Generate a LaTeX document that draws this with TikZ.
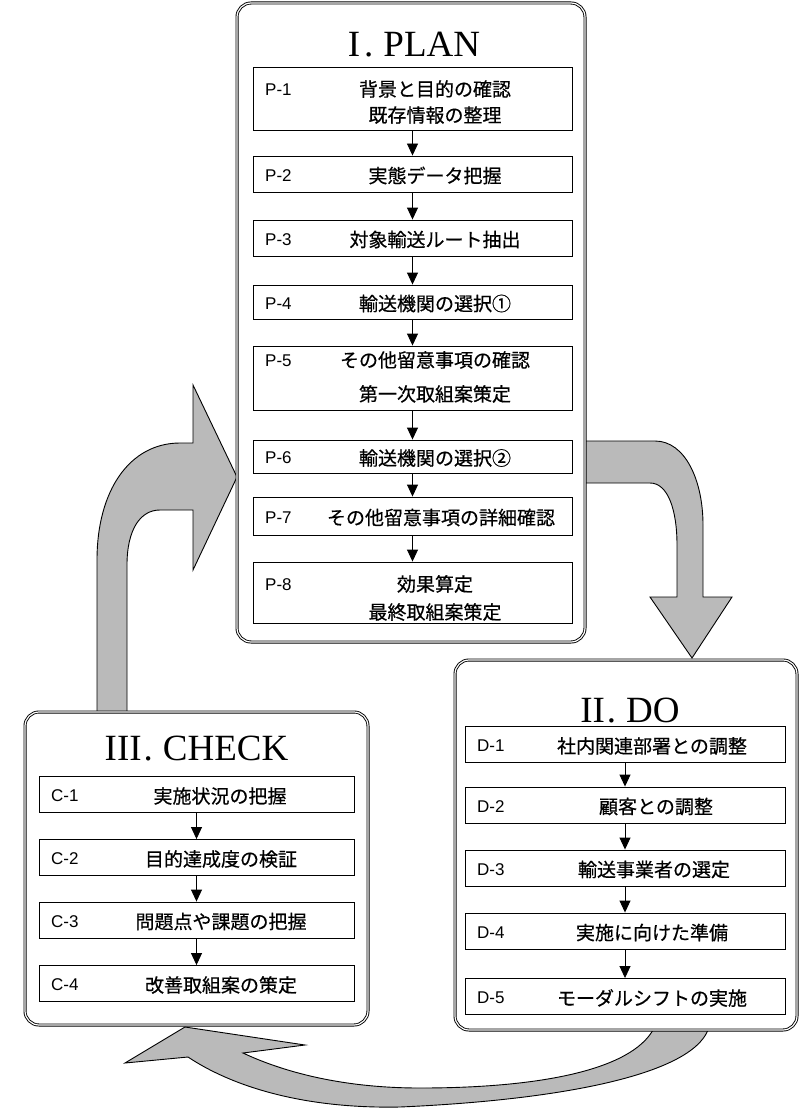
\documentclass[tikz,border=0pt]{standalone}
\usepackage{fontspec}
\usepackage{tikz}
\usetikzlibrary{graphs,backgrounds,arrows.meta}
\newfontfamily\jpfont{Noto Sans CJK JP}[FakeBold=0.5]
\newfontfamily\numfont{Liberation Sans}
\newfontfamily\titlefont{Liberation Serif}

\tikzset{
  stage/.style={draw, double, double distance=1.2pt, line width=0.9pt, rounded corners=14pt, fill=white, inner sep=0pt},
  stepbox/.style={draw, line width=0.9pt, fill=white, inner sep=0pt, minimum height=36pt},
  steplabel/.style={anchor=west, inner sep=0pt, font=\numfont\fontsize{17pt}{17pt}\selectfont},
  steptext/.style={inner sep=0pt, align=center, font=\jpfont\fontsize{19pt}{26pt}\selectfont},
  stagetitle/.style={anchor=base, inner sep=0pt, font=\titlefont\fontsize{37pt}{37pt}\selectfont},
  cyclearrow/.style={draw, line width=0.9pt, fill=black!27, line join=miter}
}

\begin{document}
\begin{tikzpicture}[x=1pt, y=-1pt, >={Triangle[length=12pt,width=11pt]}]
\useasboundingbox (0,0) rectangle (799,1110);

	% I. PLAN
	\node [name=plan, stage, minimum width=348pt, minimum height=639pt] at (411,322.5) {};
	\node [name=plantitle, stagetitle] at (414,57) {I\kern4pt.\kern10pt PLAN};

	\node [name=p1, stepbox, minimum width=319pt, minimum height=63pt] at (412.5,98.5) {};
	\node [name=p2, stepbox, minimum width=319pt] at (412.5,174) {};
	\node [name=p3, stepbox, minimum width=319pt] at (412.5,238) {};
	\node [name=p4, stepbox, minimum width=319pt, minimum height=34pt] at (412.5,302) {};
	\node [name=p5, stepbox, minimum width=319pt, minimum height=64pt] at (412.5,378) {};
	\node [name=p6, stepbox, minimum width=319pt, minimum height=33pt] at (412.5,456.5) {};
	\node [name=p7, stepbox, minimum width=319pt, minimum height=38pt] at (412.5,516) {};
	\node [name=p8, stepbox, minimum width=319pt, minimum height=61pt] at (412.5,592.5) {};

	\node [name=p1num, steplabel] at (265,90) {P-1};
	\node [name=p2num, steplabel] at (265,175.5) {P-2};
	\node [name=p3num, steplabel] at (265,239.5) {P-3};
	\node [name=p4num, steplabel] at (265,303.5) {P-4};
	\node [name=p5num, steplabel] at (265,361) {P-5};
	\node [name=p6num, steplabel] at (265,458) {P-6};
	\node [name=p7num, steplabel] at (265,517.5) {P-7};
	\node [name=p8num, steplabel] at (265,585) {P-8};

	\node [name=p1txt, steptext] at (435,102) {背景と目的の確認\\既存情報の整理};
	\node [name=p2txt, steptext] at (435,175.5) {実態データ把握};
	\node [name=p3txt, steptext] at (435,239.5) {対象輸送ルート抽出};
	\node [name=p4txt, steptext] at (435,303.5) {輸送機関の選択①};
	\node [name=p5txt, steptext] at (435,377) {その他留意事項の確認\\[8pt]第一次取組案策定};
	\node [name=p6txt, steptext] at (435,458) {輸送機関の選択②};
	\node [name=p7txt, steptext] at (441,517.5) {その他留意事項の詳細確認};
	\node [name=p8txt, steptext] at (435,598) {効果算定\\[2pt]最終取組案策定};

	% II. DO
	\node [name=do, stage, minimum width=342pt, minimum height=370pt] at (626,845) {};
	\node [name=dotitle, stagetitle] at (630,722) {II\kern2pt.\kern10pt DO};

	\node [name=d1, stepbox, minimum width=320pt] at (625,744.5) {};
	\node [name=d2, stepbox, minimum width=320pt] at (625,805) {};
	\node [name=d3, stepbox, minimum width=320pt] at (625,868) {};
	\node [name=d4, stepbox, minimum width=320pt] at (625,931) {};
	\node [name=d5, stepbox, minimum width=320pt] at (625,996.5) {};

	\node [name=d1num, steplabel] at (477,746) {D-1};
	\node [name=d2num, steplabel] at (477,806.5) {D-2};
	\node [name=d3num, steplabel] at (477,869.5) {D-3};
	\node [name=d4num, steplabel] at (477,932.5) {D-4};
	\node [name=d5num, steplabel] at (477,998) {D-5};

	\node [name=d1txt, steptext] at (652,746) {社内関連部署との調整};
	\node [name=d2txt, steptext] at (656,806.5) {顧客との調整};
	\node [name=d3txt, steptext] at (654,869.5) {輸送事業者の選定};
	\node [name=d4txt, steptext] at (652,932.5) {実施に向けた準備};
	\node [name=d5txt, steptext] at (652,998) {モーダルシフトの実施};

	% III. CHECK
	\node [name=check, stage, minimum width=343pt, minimum height=313pt] at (196.5,868.5) {};
	\node [name=checktitle, stagetitle] at (196.5,760) {III\kern2pt.\kern10pt CHECK};

	\node [name=c1, stepbox, minimum width=315pt] at (196.5,794.5) {};
	\node [name=c2, stepbox, minimum width=315pt] at (196.5,857.5) {};
	\node [name=c3, stepbox, minimum width=315pt] at (196.5,920) {};
	\node [name=c4, stepbox, minimum width=315pt] at (196.5,983.5) {};

	\node [name=c1num, steplabel] at (51,796) {C-1};
	\node [name=c2num, steplabel] at (51,859) {C-2};
	\node [name=c3num, steplabel] at (51,921.5) {C-3};
	\node [name=c4num, steplabel] at (51,985) {C-4};

	\node [name=c1txt, steptext] at (220,796) {実施状況の把握};
	\node [name=c2txt, steptext] at (221,859) {目的達成度の検証};
	\node [name=c3txt, steptext] at (221,921.5) {問題点や課題の把握};
	\node [name=c4txt, steptext] at (221,985) {改善取組案の策定};

\graph [edges={line width=0.9pt}] {(p1) -> (p2) -> (p3) -> (p4) -> (p5) -> (p6) -> (p7) -> (p8)};
\graph [edges={line width=0.9pt}] {(d1) -> (d2) -> (d3) -> (d4) -> (d5)};
\graph [edges={line width=0.9pt}] {(c1) -> (c2) -> (c3) -> (c4)};

\begin{scope}[on background layer]
	% PLAN to DO
	\path [cyclearrow] (584,441) -- (655,441) .. controls (685,441) and (703,480) .. (703,525) -- (703,597) -- (732,597) -- (692,658) -- (650,597) -- (677,597) -- (677,545) .. controls (677,510) and (668,483) .. (650,483) -- (584,483) -- cycle;
	% DO to CHECK
	\path [cyclearrow] (708,1030) .. controls (690,1075) and (560,1100) .. (400,1107) .. controls (300,1109) and (230,1085) .. (188,1057) -- (125,1063) -- (185,1027) -- (305,1045) -- (243,1053) .. controls (290,1075) and (350,1088) .. (420,1088) .. controls (540,1088) and (630,1070) .. (653,1030) -- cycle;
	% CHECK to PLAN
	\path [cyclearrow] (97,713) -- (97,560) .. controls (97,490) and (130,443) .. (180,443) -- (193,443) -- (193,385) -- (237,477) -- (193,570) -- (193,510) -- (160,510) .. controls (140,510) and (127,530) .. (127,565) -- (127,713) -- cycle;
\end{scope}

\end{tikzpicture}
\end{document}
